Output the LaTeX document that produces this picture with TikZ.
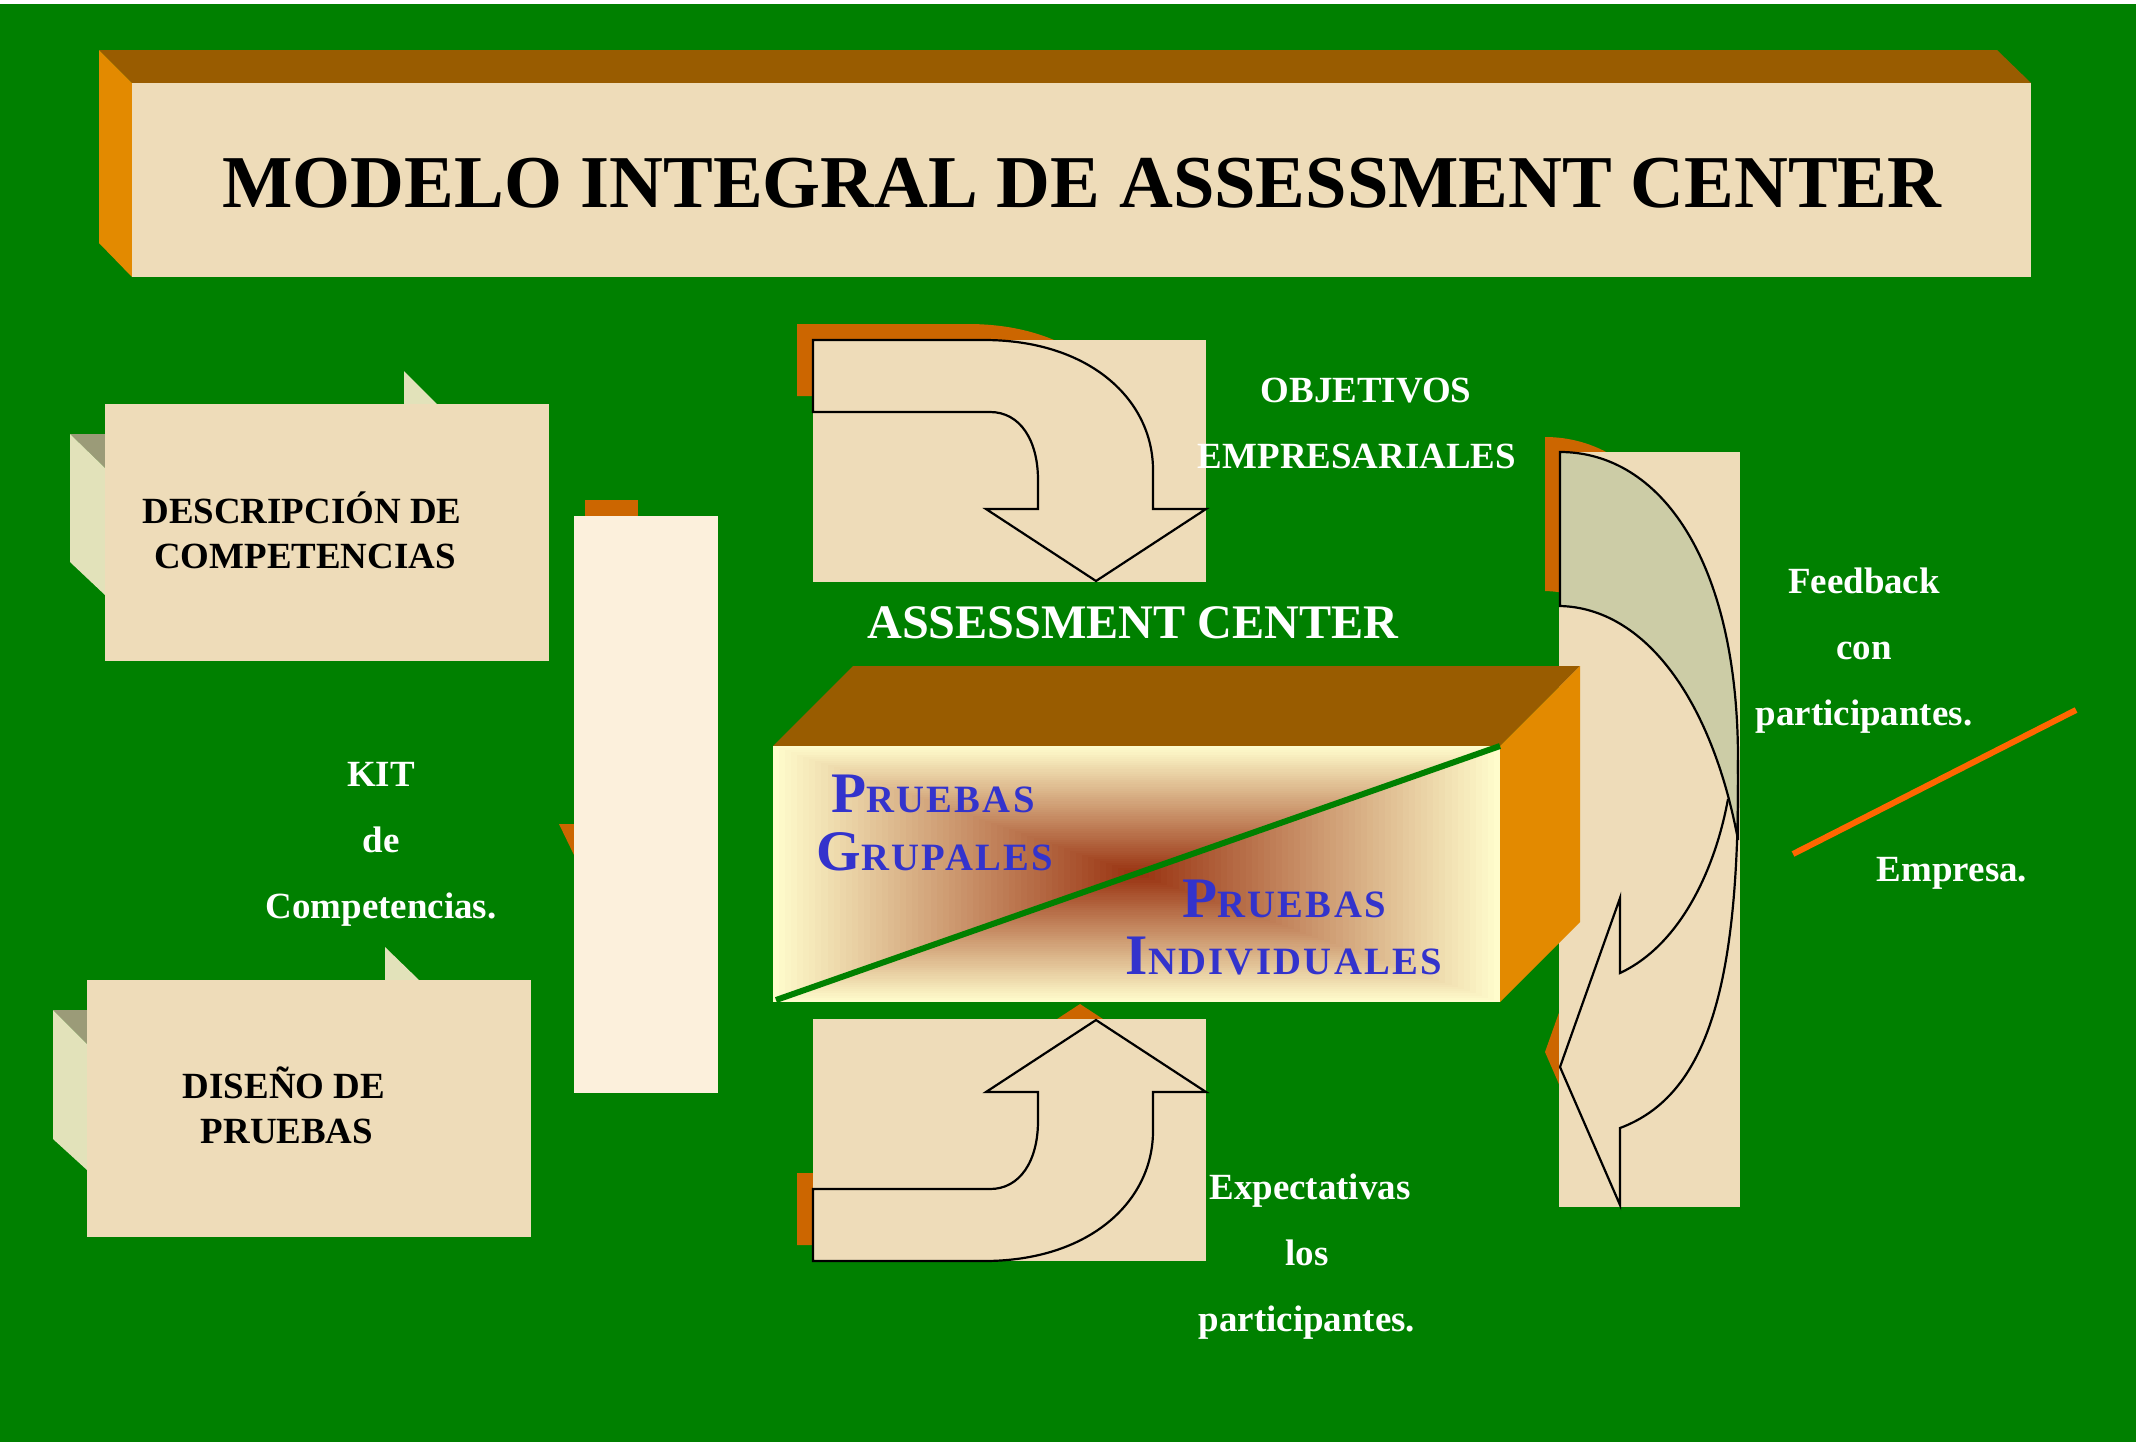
\documentclass[tikz,border=0pt]{standalone}
\usepackage{fontspec}
\setmainfont{Liberation Serif}
\newfontfamily\versalita[LetterSpace=6]{Liberation Serif}
\usepackage{tikz}
\usetikzlibrary{positioning}

\definecolor{fondo}{HTML}{008000}
\definecolor{tapa}{HTML}{995C00}
\definecolor{lateral}{HTML}{E38A00}
\definecolor{sombra}{HTML}{CC6600}
\definecolor{papel}{HTML}{EEDCB9}
\definecolor{crema}{HTML}{FCF0DC}
\definecolor{pliegue}{HTML}{E2E2BA}
\definecolor{pliegueosc}{HTML}{9B9B78}
\definecolor{salvia}{HTML}{CCCCA6}
\definecolor{cara}{HTML}{FFFCCC}
\definecolor{nucleo}{HTML}{993311}
\definecolor{azul}{HTML}{3333CC}
\definecolor{raya}{HTML}{FF6600}

\tikzset{
  blanco/.style={text=white, font=\bfseries\fontsize{10.5}{12}\selectfont,
    inner sep=0pt, text height=7.5pt, text depth=2.5pt},
  negro/.style={blanco, text=black},
  prueba/.style={text=azul, font=\bfseries, inner sep=0pt, anchor=base},
  contorno/.style={draw=black, line width=0.022cm},
}

% letra inicial grande y el resto en versalitas
\newcommand{\versal}[2]{{\fontsize{16.3}{18}\selectfont #1}{\versalita\fontsize{11}{13}\selectfont #2}}

% flecha curva que baja (caja de objetivos)
\newcommand{\giro}{(813,340) -- (984,340) .. controls (1090,340) and (1153,400) .. (1153,470)
  -- (1153,509) -- (1206,509) -- (1096,581) -- (986,509) -- (1038,509) -- (1038,480)
  .. controls (1038,440) and (1020,412) .. (990,412) -- (813,412) -- cycle}

\begin{document}
\begin{tikzpicture}[x=0.01cm, y=-0.01cm, node distance=0.66cm, on grid]

\useasboundingbox (0,0) rectangle (2136,1442);
\fill[white] (0,0) rectangle (2136,1442);
\fill[fondo] (0,4) rectangle (2136,1442);

% titulo
\fill[tapa] (99,50) -- (1997,50) -- (2031,83) -- (132,83) -- cycle;
\fill[lateral] (99,50) -- (132,83) -- (132,277) -- (99,243) -- cycle;
\fill[papel] (132,83) rectangle (2031,277);
\node[anchor=base, inner sep=0pt, font=\bfseries\fontsize{21.2}{25}\selectfont] (titulo) at (1082,207)
  {MODELO INTEGRAL DE ASSESSMENT CENTER};

% descripcion de competencias
\fill[pliegueosc] (70,434) -- (105,434) -- (105,468) -- cycle;
\fill[pliegue] (70,434) -- (105,468) -- (105,595) -- (70,562) -- cycle;
\fill[pliegue] (404,371) -- (437,404) -- (404,404) -- cycle;
\fill[papel] (105,404) rectangle (549,661);
\node[negro, anchor=base] (desc1) at (302,523) {DESCRIPCIÓN DE};
\node[negro] (desc2) [below=0.45cm of desc1, xshift=0.03cm] {COMPETENCIAS};

% diseno de pruebas
\fill[pliegueosc] (53,1010) -- (87,1010) -- (87,1044) -- cycle;
\fill[pliegue] (53,1010) -- (87,1044) -- (87,1170) -- (53,1139) -- cycle;
\fill[pliegue] (385,947) -- (419,980) -- (385,980) -- cycle;
\fill[papel] (87,980) rectangle (531,1237);
\node[negro, anchor=base] (dis1) at (284,1098) {DISEÑO DE};
\node[negro] (dis2) [below=0.45cm of dis1, xshift=0.03cm] {PRUEBAS};

% columna del kit
\fill[sombra] (585,500) rectangle (638,516);
\fill[sombra] (559,824) -- (574,824) -- (574,855) -- cycle;
\fill[crema] (574,516) rectangle (718,1093);
\node[blanco, anchor=base] (kit) at (381,786) {KIT};
\node[blanco] (kitde) [below=of kit] {de};
\node[blanco] (kitcomp) [below=of kitde] {Competencias.};

% flecha de objetivos
\fill[sombra, shift={(-16,-16)}] \giro;
\fill[papel] (813,340) rectangle (1206,582);
\draw[contorno] \giro;

% flecha de expectativas (la misma, reflejada)
\begin{scope}[shift={(0,1601)}, yscale=-1]
  \fill[sombra, shift={(-16,16)}] \giro;
  \fill[papel] (813,340) rectangle (1206,582);
  \draw[contorno] \giro;
\end{scope}

% caja del feedback
\fill[sombra, shift={(-15,-15)}] (1560,452) .. controls (1660,452) and (1738,560) .. (1738,760)
  .. controls (1738,980) and (1705,1095) .. (1620,1128) -- (1620,1205) -- (1560,1067)
  -- (1620,898) -- (1620,973) .. controls (1680,945) and (1715,870) .. (1728,799)
  .. controls (1700,690) and (1640,608) .. (1560,606) -- cycle;
\fill[papel] (1559,452) rectangle (1740,1207);
\filldraw[fill=salvia, contorno] (1560,452) .. controls (1660,452) and (1738,560) .. (1738,760)
  -- (1738,840) .. controls (1712,700) and (1645,608) .. (1560,606) -- cycle;
\draw[contorno] (1728,799) .. controls (1715,870) and (1680,945) .. (1620,973) -- (1620,898)
  -- (1560,1067) -- (1620,1205) -- (1620,1128) .. controls (1708,1095) and (1740,985) .. (1738,760);

% caja central
\fill[tapa] (773,746) -- (853,666) -- (1580,666) -- (1500,746) -- cycle;
\fill[lateral] (1500,746) -- (1580,666) -- (1580,922) -- (1500,1002) -- cycle;
\foreach \i in {0,...,59}{
  \pgfmathsetmacro{\t}{1-\i/60}
  \pgfmathsetmacro{\p}{100*\i/59}
  \fill[nucleo!\p!cara] (1136.5-363.5*\t,874-128*\t) rectangle (1136.5+363.5*\t,874+128*\t);
}
\draw[fondo, line width=0.06cm] (776,1000) -- (1500,746);
\node[prueba] (grup1) at (933,812) {\versal{P}{RUEBAS}};
\node[prueba] (grup2) at (935,870) {\versal{G}{RUPALES}};
\node[prueba] (ind1) at (1284,917) {\versal{P}{RUEBAS}};
\node[prueba] (ind2) at (1284,974) {\versal{I}{NDIVIDUALES}};

% rotulos
\node[anchor=base, inner sep=0pt, text=white, font=\bfseries\fontsize{13.7}{16}\selectfont] (ac) at (1133,638)
  {ASSESSMENT CENTER};
\node[blanco, anchor=base] (obj) at (1366,402) {OBJETIVOS};
\node[blanco] (emp) [below=of obj, xshift=-0.09cm] {EMPRESARIALES};
\node[blanco, anchor=base] (expec) at (1310,1199) {Expectativas};
\node[blanco] (explos) [below=of expec, xshift=-0.03cm] {los};
\node[blanco] (exppart) [below=of explos] {participantes.};
\node[blanco, anchor=base] (feed) at (1864,593) {Feedback};
\node[blanco] (feedcon) [below=of feed] {con};
\node[blanco] (feedpart) [below=of feedcon] {participantes.};
\node[blanco, anchor=base] (empresa) at (1952,881) {Empresa.};

\coordinate (raya-a) at (1793,854);
\coordinate (raya-b) at (2076,710);
\draw[raya, line width=0.06cm] (raya-a) -- (raya-b);

\end{tikzpicture}
\end{document}
